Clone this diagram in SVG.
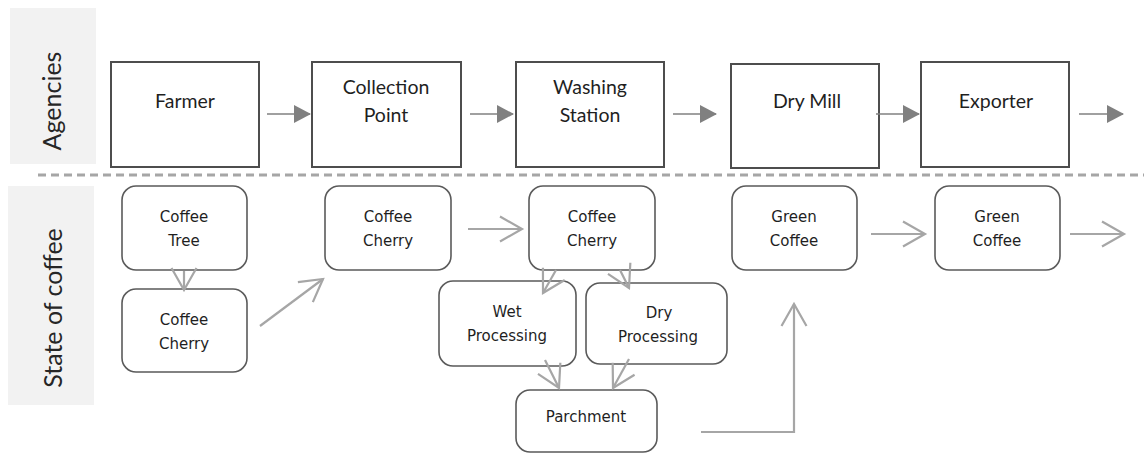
<svg xmlns="http://www.w3.org/2000/svg" width="1144" height="454" viewBox="0 0 1144 454">
<style>
.bg{fill:#ffffff}
.lane{fill:#f2f2f2}
.lanetxt{font-family:Lato,"Open Sans",sans-serif;font-size:25px;fill:#262626;text-anchor:middle}
.agency{fill:#ffffff;stroke:#4d4d4d;stroke-width:2}
.atxt{font-family:Lato,"Open Sans",sans-serif;font-size:19.5px;fill:#1f1f1f;text-anchor:middle}
.state{fill:#ffffff;stroke:#5a5a5a;stroke-width:1.6}
.stxt{font-family:"DejaVu Sans",Verdana,sans-serif;font-size:15px;fill:#1f1f1f;text-anchor:middle}
.sep{stroke:#a6a6a6;stroke-width:3;stroke-dasharray:8 5;fill:none}
.topline{stroke:#808080;stroke-width:1.6;fill:none;marker-end:url(#tri)}
.lowline{stroke:#a6a6a6;stroke-width:2.2;fill:none;marker-end:url(#open)}
</style>
<defs>
<marker id="tri" markerUnits="userSpaceOnUse" markerWidth="18" markerHeight="18" viewBox="0 0 17 18" refX="16" refY="9" orient="auto">
<path d="M0,0 L17,9 L0,18 z" fill="#808080"/>
</marker>
<marker id="open" markerUnits="userSpaceOnUse" markerWidth="30" markerHeight="30" viewBox="-26 -15 30 30" refX="0" refY="0" orient="auto">
<path d="M-22,-12.5 L0,0 L-22,12.5" fill="none" stroke="#a6a6a6" stroke-width="2.2"/>
</marker>
</defs>
<rect class="bg" x="0" y="0" width="1144" height="454"/>

<g id="lane-agencies">
<rect class="lane" x="10" y="8" width="86" height="156"/>
<text class="lanetxt" transform="translate(61,101) rotate(-90)">Agencies</text>
</g>
<g id="lane-state">
<rect class="lane" x="8" y="186" width="86" height="219"/>
<text class="lanetxt" transform="translate(62,308) rotate(-90)">State of coffee</text>
</g>

<line class="sep" x1="38" y1="175" x2="1144" y2="175"/>

<g id="farmer">
<rect class="agency" x="111" y="62" width="148" height="105"/>
<text class="atxt" x="185" y="108">Farmer</text>
</g>
<g id="collection-point">
<rect class="agency" x="312" y="62" width="149" height="105"/>
<text class="atxt" x="386" y="94">Collection</text>
<text class="atxt" x="386" y="122">Point</text>
</g>
<g id="washing-station">
<rect class="agency" x="516" y="62" width="148" height="105"/>
<text class="atxt" x="590" y="94">Washing</text>
<text class="atxt" x="590" y="122">Station</text>
</g>
<g id="dry-mill">
<rect class="agency" x="731" y="64" width="148" height="104"/>
<text class="atxt" x="807" y="108">Dry Mill</text>
</g>
<g id="exporter">
<rect class="agency" x="921" y="62" width="148" height="105"/>
<text class="atxt" x="996" y="108">Exporter</text>
</g>

<g id="coffee-tree">
<rect class="state" x="122" y="186" width="125" height="84" rx="14"/>
<text class="stxt" x="184" y="222">Coffee</text>
<text class="stxt" x="184" y="246">Tree</text>
</g>
<g id="coffee-cherry-1">
<rect class="state" x="122" y="289" width="125" height="83" rx="14"/>
<text class="stxt" x="184" y="325">Coffee</text>
<text class="stxt" x="184" y="349">Cherry</text>
</g>
<g id="coffee-cherry-2">
<rect class="state" x="325" y="186" width="126" height="84" rx="14"/>
<text class="stxt" x="388" y="222">Coffee</text>
<text class="stxt" x="388" y="246">Cherry</text>
</g>
<g id="coffee-cherry-3">
<rect class="state" x="529" y="186" width="126" height="84" rx="14"/>
<text class="stxt" x="592" y="222">Coffee</text>
<text class="stxt" x="592" y="246">Cherry</text>
</g>
<g id="wet-processing">
<rect class="state" x="439" y="281" width="137" height="85" rx="14"/>
<text class="stxt" x="507" y="317">Wet</text>
<text class="stxt" x="507" y="341">Processing</text>
</g>
<g id="dry-processing">
<rect class="state" x="586" y="283" width="141" height="81" rx="14"/>
<text class="stxt" x="659" y="318">Dry</text>
<text class="stxt" x="658" y="342">Processing</text>
</g>
<g id="parchment">
<rect class="state" x="516" y="390" width="141" height="62" rx="14"/>
<text class="stxt" x="586" y="422">Parchment</text>
</g>
<g id="green-coffee-1">
<rect class="state" x="732" y="186" width="125" height="84" rx="14"/>
<text class="stxt" x="794" y="222">Green</text>
<text class="stxt" x="794" y="246">Coffee</text>
</g>
<g id="green-coffee-2">
<rect class="state" x="935" y="186" width="125" height="84" rx="14"/>
<text class="stxt" x="997" y="222">Green</text>
<text class="stxt" x="997" y="246">Coffee</text>
</g>

<g id="connectors">
<line class="topline" x1="267" y1="114" x2="310" y2="114"/>
<line class="topline" x1="470" y1="114" x2="513" y2="114"/>
<line class="topline" x1="673" y1="114" x2="716" y2="114"/>
<line class="topline" x1="876" y1="114" x2="919" y2="114"/>
<line class="topline" x1="1079" y1="114" x2="1123" y2="114"/>

<line class="lowline" x1="184" y1="271" x2="184" y2="290"/>
<line class="lowline" x1="260" y1="326" x2="323" y2="279"/>
<line class="lowline" x1="468" y1="229" x2="522" y2="229"/>
<line class="lowline" x1="556" y1="270" x2="543" y2="293"/>
<line class="lowline" x1="620" y1="270" x2="629" y2="288"/>
<line class="lowline" x1="545" y1="360" x2="559" y2="388"/>
<line class="lowline" x1="629" y1="359" x2="613" y2="388"/>
<polyline class="lowline" points="701,432 794,432 794,304"/>
<line class="lowline" x1="871" y1="234" x2="925" y2="234"/>
<line class="lowline" x1="1070" y1="234" x2="1124" y2="234"/>
</g>
</svg>
